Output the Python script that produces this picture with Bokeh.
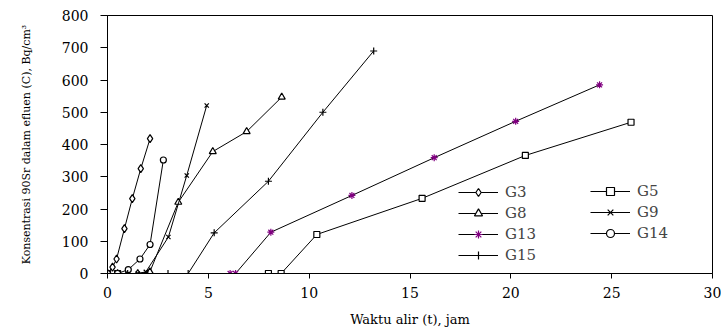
from bokeh.plotting import figure
from bokeh.models import Range1d, Legend, LegendItem, FixedTicker
from bokeh.embed import file_html
from bokeh.resources import INLINE

# ---- data ----
g3_x = [0, 0.25, 0.45, 0.84, 1.23, 1.65, 2.11]
g3_y = [0, 20, 45, 139, 232, 325, 418]

g5_x = [0, 0.5, 7.98, 8.61, 10.38, 15.6, 20.72, 25.96]
g5_y = [0, 0, 0, 0, 121, 233, 366, 469]

g8_x = [0, 0.5, 1.0, 1.5, 2.1, 3.51, 5.22, 6.9, 8.64]
g8_y = [0, 0, 0, 0, 5, 221, 378, 440, 547]

g9_x = [0, 0.5, 1.0, 1.5, 1.9, 3.02, 3.93, 4.92]
g9_y = [0, 0, 0, 0, 5, 113, 304, 521]

g13_x = [0, 6.08, 6.35, 8.1, 12.12, 16.2, 20.24, 24.4]
g13_y = [0, 0, 0, 128, 242, 359, 472, 585]

g14_x = [0, 0.5, 1.03, 1.61, 2.11, 2.77]
g14_y = [0, 0, 12, 45, 90, 352]

g15_x = [0, 1, 2, 3, 4.0, 5.29, 7.98, 10.68, 13.2]
g15_y = [0, 0, 0, 0, 0, 126, 286, 500, 690]

x_ticks = [0, 5, 10, 15, 20, 25, 30]
y_ticks = [0, 100, 200, 300, 400, 500, 600, 700, 800]

FONT = "DejaVu Serif"

p = figure(width=721, height=333, x_range=Range1d(0, 30), y_range=Range1d(0, 800),
           output_backend="svg", toolbar_location=None,
           min_border_left=107, min_border_right=9, min_border_top=15, min_border_bottom=60)
p.outline_line_color = "black"
p.outline_line_width = 1
p.xgrid.visible = False
p.ygrid.visible = False
p.background_fill_color = "white"
p.border_fill_color = "white"

for ax in (p.xaxis[0], p.yaxis[0]):
    ax.minor_tick_line_color = None
    ax.major_tick_in = 0
    ax.axis_line_color = "black"
    ax.major_tick_line_color = "black"
    ax.major_label_text_font = FONT
    ax.major_label_text_color = "black"
    ax.axis_label_text_font = FONT
    ax.axis_label_text_font_style = "normal"
    ax.axis_label_text_color = "black"

p.xaxis.ticker = FixedTicker(ticks=x_ticks)
p.yaxis.ticker = FixedTicker(ticks=y_ticks)
p.xaxis.major_tick_out = 5
p.yaxis.major_tick_out = 7
p.xaxis.major_label_text_font_size = "14px"
p.yaxis.major_label_text_font_size = "14px"
p.xaxis.major_label_standoff = 8
p.yaxis.major_label_standoff = 12
p.xaxis.axis_label = "Waktu alir (t), jam"
p.xaxis.axis_label_text_font_size = "13px"
p.xaxis.axis_label_standoff = 11
p.yaxis.axis_label = "Konsentrasi 90Sr dalam efluen (C), Bq/cm³"
p.yaxis.axis_label_text_font_size = "11px"
p.yaxis.axis_label_standoff = 26

series = [
    ("G3", g3_x, g3_y, "diamond", 8, "black"),
    ("G5", g5_x, g5_y, "square", 6, "black"),
    ("G8", g8_x, g8_y, "triangle", 7, "black"),
    ("G9", g9_x, g9_y, "x", 6, "black"),
    ("G13", g13_x, g13_y, "asterisk", 7, "#800080"),
    ("G14", g14_x, g14_y, "circle", 6, "black"),
    ("G15", g15_x, g15_y, "cross", 7, "black"),
]

items = {}
for name, xs, ys, marker, size, color in series:
    lr = p.line(xs, ys, line_color="black", line_width=1)
    sr = p.scatter(xs, ys, marker=marker, size=size, line_color=color,
                   fill_color="white", line_width=1.2)
    items[name] = LegendItem(label=name, renderers=[lr, sr])

def make_legend(names, loc):
    lg = Legend(items=[items[n] for n in names], location=loc,
                background_fill_alpha=0, border_line_alpha=0,
                label_text_font=FONT, label_text_font_size="15px",
                glyph_width=40, glyph_height=20, label_height=20,
                label_standoff=7, spacing=1, padding=0, margin=0)
    return lg

p.add_layout(make_legend(["G3", "G8", "G13", "G15"], (351, 8)))
p.add_layout(make_legend(["G5", "G9", "G14"], (483, 30)))

open("out.html", "w").write(file_html(p, INLINE))
